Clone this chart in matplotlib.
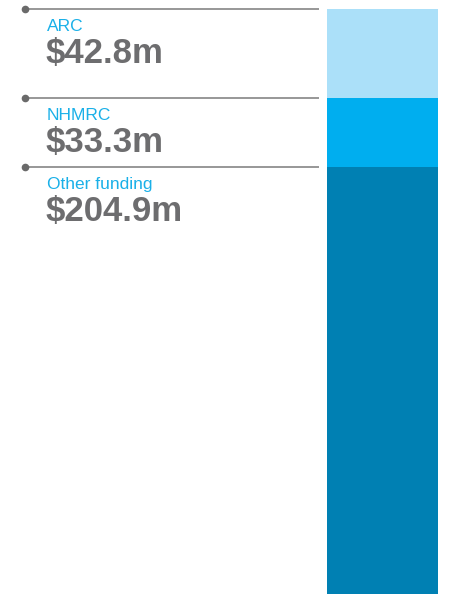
import matplotlib.pyplot as plt

labels = ['ARC', 'NHMRC', 'Other funding']
values = [42.8, 33.3, 204.9]
colors = ['#abe0f9', '#00aeef', '#0080b3']

plt.rcParams['font.family'] = ['Liberation Sans', 'DejaVu Sans']

W, H = 452, 594
fig = plt.figure(figsize=(W / 100, H / 100), dpi=100)
ax = fig.add_axes([0, 0, 1, 1])

total = sum(values)
top_px, bot_px = 9, 594
per_px = total / (bot_px - top_px)
ax.set_xlim(0, W)
ax.set_ylim(total, -top_px * per_px)
ax.axis('off')

bottom = 0
for lab, val, col in zip(labels, values, colors):
    ax.bar(327, val, width=111, bottom=bottom, color=col, align='edge', linewidth=0)
    # leader line and dot at top of the segment
    ax.plot([25, 319], [bottom, bottom], color='#7a7a7a', lw=1.1, solid_capstyle='butt')
    ax.plot(25, bottom, 'o', color='#6a6a6a', ms=5.5, mec='none')
    ax.annotate(lab, (47, bottom), xytext=(0, -22), textcoords='offset pixels',
                va='baseline', ha='left', fontsize=12.5, color='#1ab0e8')
    ax.annotate('$%.1fm' % val, (46, bottom), xytext=(0, -54), textcoords='offset pixels',
                va='baseline', ha='left', fontsize=25, fontweight='bold', color='#6d6d6f')
    bottom += val

fig.savefig('out.png', dpi=100)
